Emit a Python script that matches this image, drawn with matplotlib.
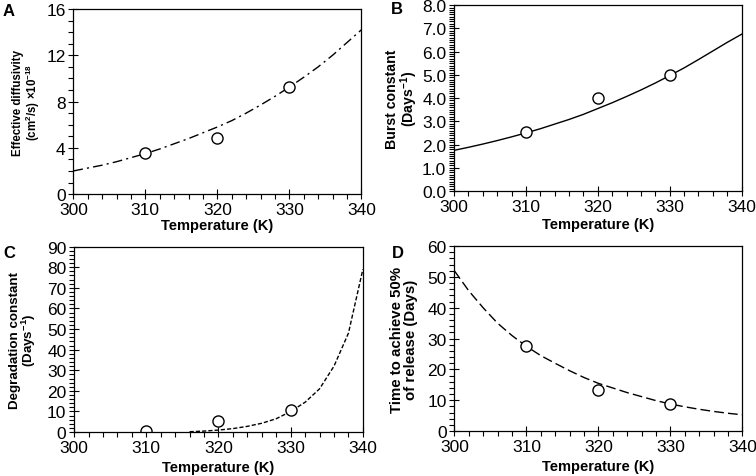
import matplotlib
matplotlib.use("Agg")
import matplotlib.pyplot as plt
from matplotlib.ticker import MultipleLocator, FormatStrFormatter

plt.rcParams['font.family'] = ['Liberation Sans', 'DejaVu Sans']
plt.rcParams['mathtext.fontset'] = 'custom'
plt.rcParams['mathtext.rm'] = 'Liberation Sans:bold'
plt.rcParams['mathtext.bf'] = 'Liberation Sans:bold'
plt.rcParams['mathtext.it'] = 'Liberation Sans:bold:italic'
plt.rcParams['mathtext.default'] = 'rm'

# measured points
temp_pts = [310, 320, 330]
diff_pts = [3.55, 4.85, 9.25]
burst_pts = [2.55, 4.0, 5.0]
degr_pts = [0.3, 5.3, 10.8]
t50_pts = [27.7, 13.5, 8.7]

# model curves, every 2 K
temp_curve = [300, 302, 304, 306, 308, 310, 312, 314, 316, 318, 320,
              322, 324, 326, 328, 330, 332, 334, 336, 338, 340]
diff_curve = [2.0, 2.25, 2.5, 2.8, 3.15, 3.5, 3.9, 4.35, 4.8, 5.3, 5.8,
              6.35, 7.0, 7.7, 8.45, 9.25, 10.1, 11.0, 12.0, 13.1, 14.2]
burst_curve = [1.75, 1.88, 2.02, 2.17, 2.33, 2.5, 2.68, 2.88, 3.08, 3.3, 3.55,
               3.8, 4.07, 4.35, 4.65, 4.97, 5.3, 5.66, 6.03, 6.4, 6.75]
t50_curve = [52, 45.5, 40, 35, 31, 27.5, 24.5, 22, 19.6, 17.4, 15.5,
             14, 12.5, 11.2, 9.9, 8.8, 7.9, 7.1, 6.4, 5.8, 5.3]
temp_degr = [316, 318, 320, 322, 324, 326, 328, 330, 332, 334, 336, 338, 340]
degr_curve = [0.2, 0.5, 1.0, 1.7, 2.8, 4.3, 6.5, 10.0, 14.5, 21, 32, 48, 79]

fig = plt.figure(figsize=(7.56, 4.77), dpi=100)


def style_axis(ax, ymax, ymajor, yminor, fmt, ylabel, ysize, ylx, xly):
    ax.set_xlim(300, 340)
    ax.set_ylim(0, ymax)
    ax.xaxis.set_major_locator(MultipleLocator(10))
    ax.xaxis.set_minor_locator(MultipleLocator(2))
    ax.yaxis.set_major_locator(MultipleLocator(ymajor))
    ax.yaxis.set_minor_locator(MultipleLocator(yminor))
    ax.yaxis.set_major_formatter(FormatStrFormatter(fmt))
    ax.tick_params(which='major', direction='inout', length=7, width=0.8,
                   labelsize=12.5)
    ax.tick_params(axis='x', which='major', pad=2.5)
    ax.tick_params(axis='y', which='major', pad=2)
    ax.tick_params(which='minor', direction='out', length=3.5, width=0.8)
    for s in ax.spines.values():
        s.set_linewidth(0.9)
    ax.set_xlabel('Temperature (K)', fontsize=10.5, fontweight='bold', va='center')
    ax.xaxis.set_label_coords(0.5, xly)
    ax.set_ylabel(ylabel, fontsize=ysize, fontweight='bold', va='center',
                  linespacing=0.95)
    ax.yaxis.set_label_coords(ylx, 0.5)


mk = dict(marker='o', ms=8, mfc='white', mec='black', mew=1.0, ls='none')

axA = fig.add_axes([0.097, 0.591, 0.381, 0.388])
axA.plot(temp_curve, diff_curve, color='black', lw=1.0, dashes=(7, 3, 1.5, 3))
axA.plot(temp_pts, diff_pts, **mk)
style_axis(axA, 16, 4, 1, '%d',
           'Effective diffusivity\n(cm$^{2}$/s) \u00d710$^{-18}$', 8.3, -0.16, -0.165)

axB = fig.add_axes([0.6005, 0.5975, 0.3805, 0.3895])
axB.plot(temp_curve, burst_curve, color='black', lw=1.0)
axB.plot(temp_pts, burst_pts, **mk)
style_axis(axB, 8, 1, 0.1, '%.1f', 'Burst constant\n(Days$^{-1}$)', 10.2, -0.178, -0.18)

axC = fig.add_axes([0.098, 0.092, 0.382, 0.389])
axC.plot(temp_degr, degr_curve, color='black', lw=1.0, dashes=(3, 1.5))
axC.plot(temp_pts, degr_pts, **mk)
style_axis(axC, 90, 10, 2, '%d', 'Degradation constant\n(Days$^{-1}$)', 9.6, -0.175, -0.187)

axD = fig.add_axes([0.601, 0.094, 0.381, 0.388])
axD.plot(temp_curve, t50_curve, color='black', lw=1.0, dashes=(7, 3))
axD.plot(temp_pts, t50_pts, **mk)
style_axis(axD, 60, 10, 2, '%d', 'Time to achieve 50%\nof release (Days)', 10.8, -0.175, -0.187)

for letter, px, py in [('A', 3, 11), ('B', 391, 10), ('C', 3, 254), ('D', 392, 253)]:
    fig.text(px / 756, 1 - py / 477, letter, fontsize=12, fontweight='bold',
             ha='left', va='center')

fig.savefig('out.png', dpi=100)
